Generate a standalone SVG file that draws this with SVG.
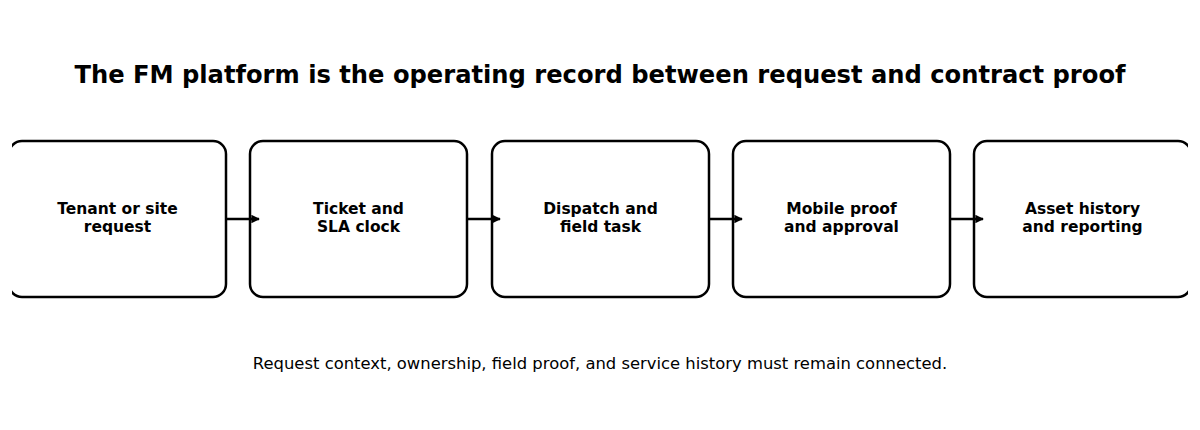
<svg xmlns="http://www.w3.org/2000/svg" width="1200" height="430" viewBox="0 0 1200 430">
<style>
.box{fill:#fff;stroke:#000;stroke-width:2.5}
.lbl{font-family:"DejaVu Sans",sans-serif;font-weight:bold;font-size:15.5px;text-anchor:middle;fill:#000}
.title{font-family:"DejaVu Sans",sans-serif;font-weight:bold;font-size:24.2px;text-anchor:middle;fill:#000}
.sub{font-family:"DejaVu Sans",sans-serif;font-size:16.4px;text-anchor:middle;fill:#000}
.conn{stroke:#000;stroke-width:2.5;fill:none;marker-end:url(#ah)}
</style>
<defs>
<marker id="ah" viewBox="0 0 10 10" refX="9" refY="5" markerWidth="3.4" markerHeight="3.4" markerUnits="strokeWidth" orient="auto">
<path d="M0,0 L10,5 L0,10 Z" fill="#000"/>
</marker>
<clipPath id="clip"><rect x="12" y="0" width="1176" height="430"/></clipPath>
</defs>
<rect width="1200" height="430" fill="#fff"/>
<text class="title" x="600" y="83">The FM platform is the operating record between request and contract proof</text>
<g clip-path="url(#clip)">
<g id="n1"><rect class="box" x="9" y="141" width="217" height="156" rx="13"/><text class="lbl" x="117.5" y="214">Tenant or site</text><text class="lbl" x="117.5" y="232">request</text></g>
<g id="n2"><rect class="box" x="250" y="141" width="217" height="156" rx="13"/><text class="lbl" x="358.5" y="214">Ticket and</text><text class="lbl" x="358.5" y="232">SLA clock</text></g>
<g id="n3"><rect class="box" x="492" y="141" width="217" height="156" rx="13"/><text class="lbl" x="600.5" y="214">Dispatch and</text><text class="lbl" x="600.5" y="232">field task</text></g>
<g id="n4"><rect class="box" x="733" y="141" width="217" height="156" rx="13"/><text class="lbl" x="841.5" y="214">Mobile proof</text><text class="lbl" x="841.5" y="232">and approval</text></g>
<g id="n5"><rect class="box" x="974" y="141" width="217" height="156" rx="13"/><text class="lbl" x="1082.5" y="214">Asset history</text><text class="lbl" x="1082.5" y="232">and reporting</text></g>
</g>
<g id="connectors">
<line class="conn" x1="226" y1="219" x2="259" y2="219"/>
<line class="conn" x1="467" y1="219" x2="500" y2="219"/>
<line class="conn" x1="709" y1="219" x2="742" y2="219"/>
<line class="conn" x1="950" y1="219" x2="983" y2="219"/>
</g>
<text class="sub" x="600" y="369">Request context, ownership, field proof, and service history must remain connected.</text>
</svg>
